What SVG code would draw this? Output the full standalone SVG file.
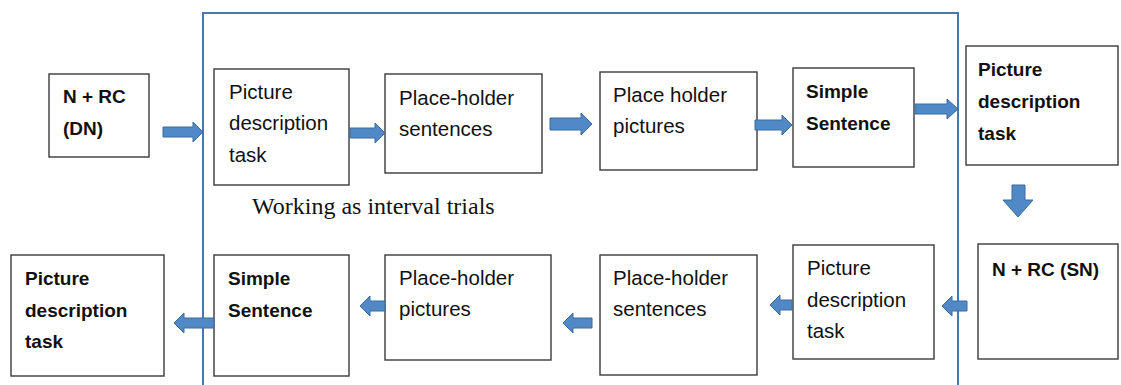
<svg xmlns="http://www.w3.org/2000/svg" width="1121" height="385" viewBox="0 0 1121 385">
<style>
.box{fill:#fff;stroke:#3a3a3a;stroke-width:1.4}
.t{font-family:"Liberation Sans",Arial,sans-serif;font-size:20.5px;fill:#111}
.b{font-family:"Liberation Sans",Arial,sans-serif;font-size:19px;font-weight:bold;fill:#111}
.arr{fill:#5089c6;stroke:#3b6a9e;stroke-width:1}
.frame{fill:none;stroke:#4a78ad;stroke-width:2}
.note{font-family:"Liberation Serif","Times New Roman",serif;font-size:24px;fill:#111}
</style>
<rect class="frame" x="203" y="13" width="755" height="400"/>
<text class="note" x="252" y="214">Working as interval trials</text>

<g id="n1"><rect class="box" x="49" y="74" width="100" height="83"/><text class="b" x="63" y="103">N + RC</text><text class="b" x="63" y="135">(DN)</text></g>
<g id="n2"><rect class="box" x="214" y="69" width="135" height="116"/><text class="t" x="229" y="99">Picture</text><text class="t" x="229" y="130">description</text><text class="t" x="229" y="162">task</text></g>
<g id="n3"><rect class="box" x="385" y="74" width="157" height="99"/><text class="t" x="399" y="105">Place-holder</text><text class="t" x="399" y="136">sentences</text></g>
<g id="n4"><rect class="box" x="600" y="72" width="157" height="98"/><text class="t" x="613" y="102">Place holder</text><text class="t" x="613" y="133">pictures</text></g>
<g id="n5"><rect class="box" x="793" y="68" width="121" height="99"/><text class="b" x="806" y="98">Simple</text><text class="b" x="806" y="130">Sentence</text></g>
<g id="n6"><rect class="box" x="966" y="46" width="152" height="119"/><text class="b" x="978" y="76">Picture</text><text class="b" x="978" y="108">description</text><text class="b" x="978" y="140">task</text></g>

<g id="n7"><rect class="box" x="978" y="244" width="140" height="115"/><text class="b" x="992" y="276">N + RC (SN)</text></g>
<g id="n8"><rect class="box" x="793" y="245" width="141" height="114"/><text class="t" x="807" y="275">Picture</text><text class="t" x="807" y="307">description</text><text class="t" x="807" y="338">task</text></g>
<g id="n9"><rect class="box" x="600" y="255" width="157" height="120"/><text class="t" x="613" y="285">Place-holder</text><text class="t" x="613" y="316">sentences</text></g>
<g id="n10"><rect class="box" x="385" y="255" width="166" height="105"/><text class="t" x="399" y="285">Place-holder</text><text class="t" x="399" y="316">pictures</text></g>
<g id="n11"><rect class="box" x="214" y="255" width="135" height="121"/><text class="b" x="228" y="285">Simple</text><text class="b" x="228" y="317">Sentence</text></g>
<g id="n12"><rect class="box" x="11" y="255" width="153" height="121"/><text class="b" x="25" y="285">Picture</text><text class="b" x="25" y="317">description</text><text class="b" x="25" y="348">task</text></g>

<g id="connectors">
<polygon class="arr" points="163,127 193,127 193,122 203,132 193,142 193,137 163,137"/>
<polygon class="arr" points="350,128 375,128 375,123 385,133 375,143 375,138 350,138"/>
<polygon class="arr" points="550,118 581,118 581,113 592,124 581,135 581,130 550,130"/>
<polygon class="arr" points="755,120 782,120 782,115 792,125 782,135 782,130 755,130"/>
<polygon class="arr" points="915,104 947,104 947,99 958,109 947,119 947,114 915,114"/>
<polygon class="arr" points="1012,185 1025,185 1025,200 1033,200 1018,217 1003,200 1012,200"/>
<polygon class="arr" points="967,301 952,301 952,296 942,306 952,316 952,311 967,311"/>
<polygon class="arr" points="792,300 780,300 780,295 770,305 780,315 780,310 792,310"/>
<polygon class="arr" points="592,318 573,318 573,313 563,323 573,333 573,328 592,328"/>
<polygon class="arr" points="385,301 370,301 370,296 360,306 370,316 370,311 385,311"/>
<polygon class="arr" points="214,318 184,318 184,313 174,323 184,333 184,328 214,328"/>
</g>
</svg>
